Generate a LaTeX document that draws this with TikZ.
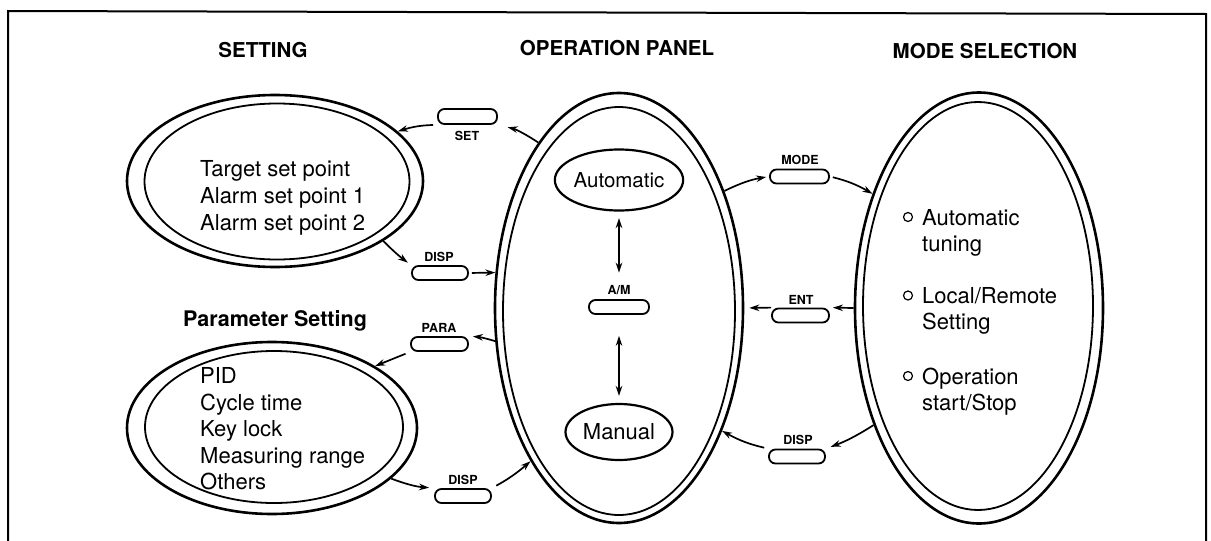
\documentclass[tikz,border=0pt]{standalone}
\usepackage{fontspec}
\setmainfont{TeX Gyre Heros}
\usetikzlibrary{arrows.meta,shapes.geometric}
\begin{document}
\begin{tikzpicture}[x=1pt,y=-1pt,
  outer/.style={ellipse,draw,line width=2.6pt,inner sep=0pt},
  inner/.style={ellipse,draw,line width=1.8pt,inner sep=0pt},
  mini/.style={ellipse,draw,line width=2.2pt,inner sep=0pt},
  key/.style={rectangle,rounded corners=6.5pt,draw,line width=1.8pt,minimum width=57pt,minimum height=14pt,inner sep=0pt},
  keylbl/.style={font=\bfseries\fontsize{12.5}{14}\selectfont,inner sep=0pt,anchor=base},
  title/.style={font=\bfseries\fontsize{20.5}{24}\selectfont,inner sep=0pt,anchor=base},
  body/.style={font=\fontsize{22}{26}\selectfont,inner sep=0pt,anchor=base west},
  arr/.style={-{Stealth[length=10pt,width=6.5pt]},line width=1.7pt},
  dbl/.style={{Stealth[length=10pt,width=6.5pt]}-{Stealth[length=10pt,width=6.5pt]},line width=1.7pt},
  bul/.style={circle,draw,line width=1.2pt,minimum size=9pt,inner sep=0pt}
]
\useasboundingbox (0,0) rectangle (1211,541);
% frame
\draw[line width=2pt] (8,545) -- (8,11) -- (1206,14) -- (1206,545);

% titles
\node[title] (t1) at (263,57) {SETTING};
\node[title] (t2) at (617,55) {OPERATION PANEL};
\node[title] (t3) at (985,58) {MODE SELECTION};

% big ellipses
\node[outer,minimum width=296pt,minimum height=172pt] (set) at (275,181) {};
\node[inner,minimum width=265pt,minimum height=156pt] (setin) at (277,181.5) {};
\node[outer,minimum width=290pt,minimum height=172pt] (par) at (272,428) {};
\node[inner,minimum width=258pt,minimum height=152pt] (parin) at (274,427) {};
\node[outer,minimum width=248pt,minimum height=430pt] (op) at (619,308) {};
\node[inner,minimum width=232pt,minimum height=408pt] (opin) at (619,311) {};
\node[outer,minimum width=248pt,minimum height=431pt] (mode) at (979,308) {};
\node[inner,minimum width=230pt,minimum height=408pt] (modein) at (978,306) {};

% setting text
\node[body] (s1) at (200,176) {Target set point};
\node[body] (s2) at (200,203) {Alarm set point 1};
\node[body] (s3) at (200,230) {Alarm set point 2};

% parameter setting
\node[font=\bfseries\fontsize{21.5}{24}\selectfont,inner sep=0pt,anchor=base west] (pt) at (183,326) {Parameter Setting};
\node[body] (p1) at (200,383) {PID};
\node[body] (p2) at (200,410) {Cycle time};
\node[body] (p3) at (200,436.5) {Key lock};
\node[body] (p4) at (200,463) {Measuring range};
\node[body] (p5) at (200,489.5) {Others};

% operation panel inner states
\node[mini,minimum width=107pt,minimum height=61pt,font=\fontsize{20.5}{24}\selectfont] (auto) at (619,180) {Automatic};
\node[mini,minimum width=107pt,minimum height=56pt,font=\fontsize{22}{24}\selectfont] (man) at (619,432) {Manual};

% mode selection text
\node[bul] (b1) at (908,217) {};
\node[bul] (b2) at (908,295.5) {};
\node[bul] (b3) at (908,376) {};
\node[body] (m1) at (922,225) {Automatic};
\node[body] (m2) at (922,251) {tuning};
\node[body] (m3) at (922,303) {Local/Remote};
\node[body] (m4) at (922,329.5) {Setting};
\node[body] (m5) at (922,384) {Operation};
\node[body] (m6) at (922,410.5) {start/Stop};

% keys
\node[key,minimum width=59pt,minimum height=15pt] (setb) at (467.5,116.5) {};
\node[keylbl] (setl) at (467,140) {SET};
\node[key,minimum width=56pt] (dispa) at (440,273) {};
\node[keylbl] (dispal) at (439,261) {DISP};
\node[key,minimum width=60pt] (amb) at (619,307) {};
\node[keylbl] (aml) at (619,294) {A/M};
\node[key] (parab) at (439.5,344) {};
\node[keylbl] (paral) at (439,332) {PARA};
\node[key,minimum width=56pt] (dispb) at (463,496) {};
\node[keylbl] (dispbl) at (463,484) {DISP};
\node[key,minimum width=59pt] (modeb) at (799.5,176.5) {};
\node[keylbl] (model) at (800,164) {MODE};
\node[key] (entb) at (800.5,315.5) {};
\node[keylbl] (entl) at (801,304) {ENT};
\node[key,minimum width=56pt] (dispc) at (797,456.5) {};
\node[keylbl] (dispcl) at (798,444) {DISP};

% A/M arrows
\draw[dbl,shorten <=6.5pt,shorten >=12pt] (auto.south) -- (aml.north);
\draw[dbl,shorten <=21pt,shorten >=7pt] (amb.south) -- (man.north);

% left side connectors
\draw[arr,shorten >=10pt] (op.116) to[bend right=10] (setb.south east);
\draw[arr,shorten <=4pt] (setb.south west) to[bend right=8] (set.22);
\draw[arr,shorten >=4pt] (set.-29.5) to[bend right=4] (dispa.north west);
\draw[arr,shorten <=3pt] (dispa.east) -- (op.164);
\draw[arr,shorten >=4pt] (op.195.6) to[bend right=6] (parab.north east);
\draw[arr,shorten <=5pt] (parab.south west) -- (par.31.5);
\draw[arr,shorten >=5pt] (par.-23.8) to[bend right=8] (dispb.north west);
\draw[arr,shorten <=5pt] (dispb.north east) to[bend right=6] (op.240.8);

% right side connectors
\draw[arr,shorten >=3pt] (op.48.8) to[bend left=8] (modeb.west);
\draw[arr,shorten <=3pt] (modeb.east) to[bend left=8] (mode.133.2);
\draw[arr,shorten >=3pt] (mode.180) -- (entb.north east);
\draw[arr,shorten >=5pt] (entb.north west) -- (op.0);
\draw[arr,shorten >=5pt] (mode.228.3) to[bend left=6] (dispc.north east);
\draw[arr,shorten <=4pt] (dispc.north west) to[bend left=8] (op.-50.2);
\end{tikzpicture}
\end{document}
